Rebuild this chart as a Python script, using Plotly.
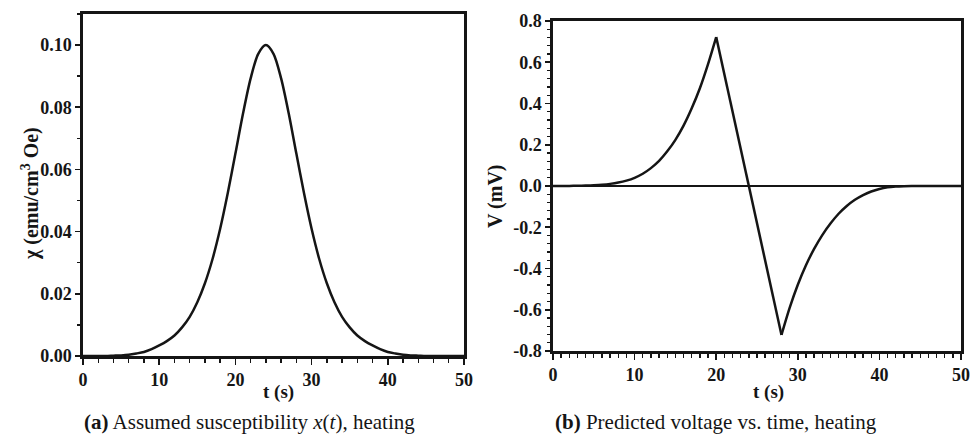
import plotly.graph_objects as go

# ---------------- data ----------------
chi_t = list(range(0, 51))
chi_val = [
    0.0, 0.0, 0.0, 0.0, 0.0001, 0.0002, 0.0004, 0.0008, 0.0013, 0.0022,   # t=0..9
    0.0034, 0.0048, 0.0066, 0.0092, 0.0126, 0.0173, 0.0234, 0.0312, 0.0409, 0.0524,  # 10..19
    0.0651, 0.0780, 0.0893, 0.0972, 0.1000, 0.0972, 0.0893, 0.0780, 0.0651, 0.0524,  # 20..29
    0.0409, 0.0312, 0.0234, 0.0173, 0.0126, 0.0092, 0.0066, 0.0048, 0.0034, 0.0022,  # 30..39
    0.0013, 0.0008, 0.0004, 0.0002, 0.0001, 0.0, 0.0, 0.0, 0.0, 0.0, 0.0,            # 40..50
]

v_rise_t = [0, 1, 2, 3, 4, 5, 6, 7, 8, 9, 10, 11, 12, 13, 14, 15, 16, 17, 18, 19, 20]
v_rise = [0.0, 0.0002, 0.0005, 0.0010, 0.0019, 0.0035, 0.0061, 0.0103, 0.0166, 0.0261,
          0.0397, 0.0593, 0.0866, 0.1217, 0.168, 0.224, 0.293, 0.377, 0.474, 0.591, 0.722]

v_drop_t = [20, 28]
v_drop = [0.722, -0.722]

v_fall_t = [28, 29, 30, 31, 32, 33, 34, 35, 36, 37, 38, 39, 40, 41, 42, 43, 44, 45, 50]
v_fall = [-0.722, -0.591, -0.479, -0.384, -0.305, -0.238, -0.182, -0.1345, -0.0967,
          -0.0668, -0.0439, -0.0266, -0.0143, -0.0064, -0.0027, -0.0010, -0.0003, 0.0, 0.0]

x_ticks = [0, 10, 20, 30, 40, 50]
chi_ticks = [0.00, 0.02, 0.04, 0.06, 0.08, 0.10]
v_ticks = [-0.8, -0.6, -0.4, -0.2, 0.0, 0.2, 0.4, 0.6, 0.8]
v_tick_text = ["-0.8", "-0.6", "-0.4", "-0.2", "0.0", "0.2", "0.4", "0.6", "0.8"]

# ---------------- figure ----------------
W, H = 971, 436
INK = "#151515"
SERIF = "Liberation Serif"

def px_x(p):
    return p / W

def px_y(p):
    return 1 - p / H

fig = go.Figure()

smooth = dict(color=INK, width=2.5, shape="spline", smoothing=0.8)
fig.add_trace(go.Scatter(x=chi_t, y=chi_val, mode="lines", line=smooth,
                         xaxis="x", yaxis="y", showlegend=False, hoverinfo="skip"))
fig.add_trace(go.Scatter(x=v_rise_t, y=v_rise, mode="lines", line=smooth,
                         xaxis="x2", yaxis="y2", showlegend=False, hoverinfo="skip"))
fig.add_trace(go.Scatter(x=v_drop_t, y=v_drop, mode="lines", line=dict(color=INK, width=2.5),
                         xaxis="x2", yaxis="y2", showlegend=False, hoverinfo="skip"))
fig.add_trace(go.Scatter(x=v_fall_t, y=v_fall, mode="lines", line=smooth,
                         xaxis="x2", yaxis="y2", showlegend=False, hoverinfo="skip"))

tickfont = dict(family=SERIF, size=18, color=INK, weight="bold")
common = dict(showline=True, linecolor=INK, linewidth=2.6, mirror=True,
              showgrid=False, ticks="outside", tickcolor=INK,
              tickwidth=1.6, tickfont=tickfont, automargin=False, fixedrange=True)
minor_style = dict(ticks="outside", tickcolor=INK, tickwidth=1.4)

fig.update_layout(
    width=W, height=H, autosize=False,
    margin=dict(l=0, r=0, t=0, b=0),
    paper_bgcolor="white", plot_bgcolor="white",
    hovermode=False,
    xaxis=dict(domain=[px_x(83), px_x(464)], range=[0, 50], tickvals=x_ticks,
               ticklen=6, anchor="y", zeroline=False,
               minor=dict(dtick=2, ticklen=4, **minor_style), **common),
    yaxis=dict(domain=[px_y(356), px_y(14)], range=[0, 0.11], tickvals=chi_ticks,
               tickformat=".2f", ticklen=5, anchor="x", zeroline=False,
               minor=dict(dtick=0.01, ticklen=3, **minor_style), **common),
    xaxis2=dict(domain=[px_x(553), px_x(961)], range=[0, 50], tickvals=x_ticks,
                ticklen=6, anchor="y2", zeroline=False,
                minor=dict(dtick=1, ticklen=4, **minor_style), **common),
    yaxis2=dict(domain=[px_y(351), px_y(21)], range=[-0.8, 0.8], tickvals=v_ticks,
                ticktext=v_tick_text, ticklen=5, anchor="x2",
                zeroline=True, zerolinecolor=INK, zerolinewidth=2.6,
                minor=dict(dtick=0.04, ticklen=3, **minor_style), **common),
)

title_font = dict(family=SERIF, size=19, color=INK, weight="bold")
ytitle_font = dict(family=SERIF, size=20, color=INK, weight="bold")
cap_font = dict(family=SERIF, size=21, color=INK)

ann = [
    dict(text="t (s)", x=px_x(278), y=px_y(392), font=title_font),
    dict(text="t (s)", x=px_x(768), y=px_y(392), font=title_font),
    dict(text="χ (emu/cm<sup>3</sup> Oe)", x=px_x(30), y=px_y(194), font=ytitle_font, textangle=-90),
    dict(text="V (mV)", x=px_x(495), y=px_y(196), font=ytitle_font, textangle=-90),
    dict(text="<b>(a)</b> Assumed susceptibility <i>x</i>(<i>t</i>), heating",
         x=px_x(82), y=px_y(422), font=cap_font, xanchor="left"),
    dict(text="<b>(b)</b> Predicted voltage vs. time, heating",
         x=px_x(553), y=px_y(422), font=cap_font, xanchor="left"),
]
for a in ann:
    base = dict(xref="paper", yref="paper", showarrow=False, xanchor="center", yanchor="middle")
    base.update(a)
    fig.add_annotation(**base)

# remove the browser's default 8px body margin so the 971x436 figure fills the window
fig.write_html("out.html",
               config={"displayModeBar": False, "staticPlot": True},
               post_script="document.body.style.margin='0';document.body.style.overflow='hidden';")
